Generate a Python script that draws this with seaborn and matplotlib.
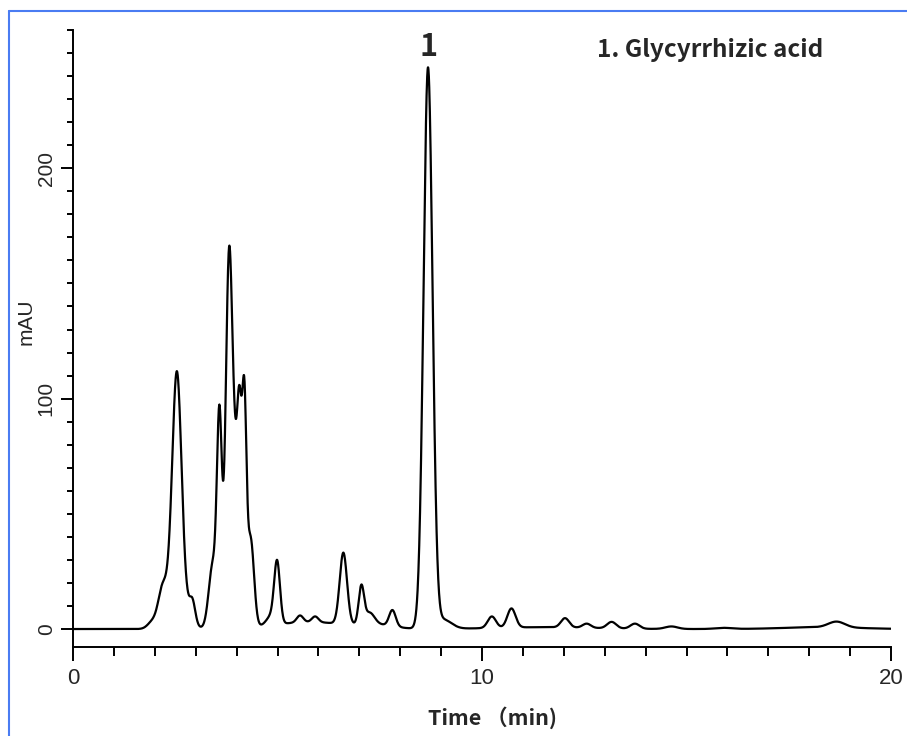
import numpy as np
import pandas as pd
import seaborn as sns
import matplotlib.pyplot as plt
from matplotlib.lines import Line2D
from matplotlib.ticker import MultipleLocator

# Peak table: retention time (min), height (mAU), width (sigma, min)
peak_time = [1.95, 2.18, 2.54, 2.52, 2.92, 3.42, 3.58, 3.81, 4.00, 4.07, 4.19, 4.35,
             4.85, 4.99, 5.55, 5.92, 6.61, 7.05, 7.25, 7.81, 8.68, 9.05,
             10.24, 10.72, 12.03, 12.56, 13.17, 13.74, 14.63, 15.9, 18.67]
peak_height = [3, 12, 90, 22, 9, 28, 86, 133, 70, 38, 70, 34,
               4, 26, 3, 2.5, 31, 16, 5, 7, 243, 4,
               5, 8.3, 4, 1.8, 2.8, 2.2, 1.1, 0.5, 2.5]
peak_width = [0.12, 0.1, 0.11, 0.22, 0.07, 0.1, 0.06, 0.08, 0.15, 0.05, 0.05, 0.08,
              0.12, 0.07, 0.08, 0.08, 0.09, 0.065, 0.12, 0.08, 0.11, 0.2,
              0.1, 0.1, 0.1, 0.1, 0.11, 0.11, 0.15, 0.2, 0.2]

# broad baseline humps
hump_time = [5.8, 7.45, 11.5, 18.3]
hump_height = [3.0, 1.5, 0.8, 0.8]
hump_width = [0.9, 0.4, 1.2, 0.9]

t = np.arange(0, 20.001, 0.005)
signal = np.zeros_like(t)
for c, h, s in zip(peak_time + hump_time, peak_height + hump_height, peak_width + hump_width):
    signal += h * np.exp(-0.5 * ((t - c) / s) ** 2)
df = pd.DataFrame({'time': t, 'mAU': signal})

sns.set_style("ticks")
plt.rcParams['font.family'] = ['Liberation Sans', 'DejaVu Sans']
cjk = ['Noto Sans CJK SC', 'DejaVu Sans']

fig = plt.figure(figsize=(9.07, 7.36), dpi=100)
ax = fig.add_axes([73 / 907, 89 / 736, 818 / 907, 617 / 736])

sns.lineplot(data=df, x='time', y='mAU', ax=ax, color='black', linewidth=1.6)

ax.set_xlim(0, 20)
ax.set_ylim(-7.8, 260)
sns.despine(ax=ax)
for sp in ['left', 'bottom']:
    ax.spines[sp].set_linewidth(1.4)
    ax.spines[sp].set_color('black')

ax.xaxis.set_major_locator(MultipleLocator(10))
ax.xaxis.set_minor_locator(MultipleLocator(1))
ax.yaxis.set_major_locator(MultipleLocator(100))
ax.yaxis.set_minor_locator(MultipleLocator(10))
ax.tick_params(axis='x', which='major', length=10, width=1.4, pad=5, labelsize=16, color='black')
ax.tick_params(axis='x', which='minor', length=6.5, width=1.4, color='black')
ax.tick_params(axis='y', which='major', length=8.5, width=1.4, pad=4, labelsize=15, color='black')
ax.tick_params(axis='y', which='minor', length=4.5, width=1.4, color='black')
for lab in ax.get_yticklabels():
    lab.set_rotation(90)
    lab.set_va('center')

ax.set_xlabel('Time （min)', fontsize=15.5, fontweight='bold', family=cjk)
ax.xaxis.set_label_coords((493 - 73) / 818, (647 - 706) / 617)
ax.set_ylabel('')
fig.text(26 / 907, 1 - 322 / 736, 'mAU', rotation=90, fontsize=15,
         ha='center', va='center')

ax.text(8.68, 245.5, '1', fontsize=22, fontweight='bold', ha='center', va='bottom', family=cjk)
fig.text(597 / 907, 1 - 50 / 736, '1. Glycyrrhizic acid', fontsize=17.5, fontweight='bold',
         ha='left', va='center', family=cjk)

# blue frame (left and top edges)
blue = '#4a7cf2'
fig.add_artist(Line2D([8.5 / 907, 8.5 / 907], [0, 1 - 11 / 736], color=blue, lw=1.5,
                      transform=fig.transFigure))
fig.add_artist(Line2D([8.5 / 907, 1], [1 - 11 / 736, 1 - 11 / 736], color=blue, lw=1.5,
                      transform=fig.transFigure))

fig.savefig('out.png', dpi=100)
